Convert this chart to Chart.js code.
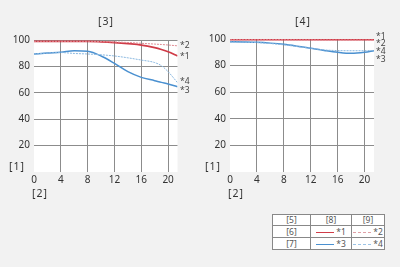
<!DOCTYPE html>
<html><head><meta charset="utf-8">
<script src="https://cdn.jsdelivr.net/npm/chart.js@4/dist/chart.umd.min.js"></script>
<style>
html,body{margin:0;padding:0;background:#f2f2f2;}
body{width:400px;height:267px;position:relative;overflow:hidden;font-family:"Noto Sans",sans-serif;color:#333;}
.t{position:absolute;font-size:10.5px;line-height:12px;white-space:nowrap;letter-spacing:1px;width:30px;text-align:center;}
.s{position:absolute;font-size:8.5px;line-height:10px;white-space:nowrap;color:#444;}
.c{position:absolute;top:0;}
table{position:absolute;left:272px;top:214px;border-collapse:collapse;background:#fff;font-size:8.5px;color:#555;}
td{border:1px solid #888;height:10px;padding:0;text-align:center;line-height:10px;}
.ln{display:inline-block;width:18px;height:0;vertical-align:middle;margin-right:2px;}
</style></head><body>
<div class="c" style="left:0"><canvas id="c1" width="200" height="200"></canvas></div>
<div class="c" style="left:196px"><canvas id="c2" width="200" height="200"></canvas></div>
<div class="t" style="left:91px;top:15px">[3]</div>
<div class="t" style="left:288px;top:15px">[4]</div>
<div class="t" style="left:2px;top:160px">[1]</div>
<div class="t" style="left:25px;top:187px">[2]</div>
<div class="t" style="left:198px;top:160px">[1]</div>
<div class="t" style="left:221px;top:187px">[2]</div>
<div class="s" style="left:180px;top:40px">*2</div>
<div class="s" style="left:180px;top:51px">*1</div>
<div class="s" style="left:180px;top:76px">*4</div>
<div class="s" style="left:180px;top:85px">*3</div>
<div class="s" style="left:376px;top:31px">*1</div>
<div class="s" style="left:376px;top:38px">*2</div>
<div class="s" style="left:376px;top:46px">*4</div>
<div class="s" style="left:376px;top:54px">*3</div>
<table>
<tr><td style="width:37px">[5]</td><td style="width:40px">[8]</td><td style="width:32px">[9]</td></tr>
<tr><td style="height:11px">[6]</td><td><span class="ln" style="border-top:1.5px solid #d03c48"></span>*1</td><td><span class="ln" style="border-top:1px dashed #e0a0a6"></span>*2</td></tr>
<tr><td style="height:11px">[7]</td><td><span class="ln" style="border-top:1.5px solid #4a90d0"></span>*3</td><td><span class="ln" style="border-top:1px dashed #9cc4e6"></span>*4</td></tr>
</table>
<script>
const xTicks = [0, 4, 8, 12, 16, 20];
const yTicks = [20, 40, 60, 80, 100];
const xMax = 21.4;

const posL = [0, 2, 4, 6, 8, 10, 12, 14, 16, 18, 19, 20, 21.4];
const left1 = [99, 99, 99, 99, 99, 98.6, 98, 97.2, 96.2, 94.2, 92.8, 91.1, 87.9];
const left2 = [99, 99, 99, 99, 99, 98.8, 98.5, 98.1, 97.5, 96.9, 96.6, 96.2, 95.6];
const left3 = [89.4, 90.1, 90.7, 91.8, 91.4, 87.9, 82.3, 76, 71.7, 69.2, 67.9, 66.7, 64.6];
const left4 = [89.4, 90.1, 90.5, 89.8, 89.4, 88.8, 87.9, 86.5, 84.8, 82.9, 80.5, 76, 67.7];

const posR = [0, 2, 4, 6, 8, 10, 12, 14, 16, 18, 20, 21.4];
const right1 = [99.6, 99.6, 99.6, 99.6, 99.6, 99.6, 99.6, 99.5, 99.5, 99.5, 99.5, 99.5];
const right2 = [99.4, 99.4, 99.4, 99.4, 99.4, 99.3, 99.3, 99.2, 99.2, 99.2, 99.2, 99.2];
const right3 = [98, 97.8, 97.5, 96.9, 96, 94.6, 93, 91.4, 90, 89.2, 90, 91.2];
const right4 = [97.8, 97.6, 97.3, 96.6, 95.6, 94.3, 93, 91.8, 91.3, 91.2, 91.2, 91.4];

const RED = '#d03c48', RED2 = '#df8a92', BLUE = '#4a90d0', BLUE2 = '#8ab8e0';

function pts(xs, ys){ return xs.map((x,i)=>({x:x, y:ys[i]})); }

const bg = {id:'bg', beforeDraw(ch){const a=ch.chartArea,c=ch.ctx;c.save();c.fillStyle='#fff';c.fillRect(a.left,a.top,a.right-a.left,a.bottom-a.top);c.restore();}};

function make(id, xs, s1, s2, s3, s4, geo){
  const ds = (d, color, w, dash) => ({data: pts(xs, d), borderColor: color, borderWidth: w, borderDash: dash, pointRadius: 0, tension: 0.4, cubicInterpolationMode: 'monotone', fill: false});
  return new Chart(document.getElementById(id), {
    type: 'line',
    data: {datasets: [ds(s4, BLUE2, 1, [2,1]), ds(s3, BLUE, 1.5, []), ds(s2, RED2, 1, [2,1]), ds(s1, RED, 1.8, [])]},
    plugins: [bg],
    options: {
      responsive: false, animation: false,
      layout: {padding: {left: 0, top: geo.top, right: 200 - geo.right, bottom: 0}},
      plugins: {legend: {display: false}, tooltip: {enabled: false}},
      scales: {
        x: {type: 'linear', min: 0, max: xMax,
            afterBuildTicks: s => { s.ticks = xTicks.map(v => ({value: v})); },
            afterFit: s => { s.height = 200 - geo.bottom; },
            grid: {color: c => c.tick && c.tick.value === 0 ? 'rgba(0,0,0,0)' : '#8c8c8c', lineWidth: 1, drawTicks: false},
            border: {display: false},
            ticks: {color: '#333', font: {family: 'Noto Sans', size: 10}, padding: 2, maxRotation: 0}},
        y: {min: 0, max: 100,
            afterBuildTicks: s => { s.ticks = yTicks.map(v => ({value: v})); },
            afterFit: s => { s.width = geo.left; },
            grid: {color: '#8c8c8c', lineWidth: 1, drawTicks: false},
            border: {display: false},
            ticks: {color: '#333', font: {family: 'Noto Sans', size: 10}, padding: 4}}
      }
    }
  });
}
make('c1', posL, left1, left2, left3, left4, {left: 34, right: 177.5, top: 40, bottom: 172});
make('c2', posR, right1, right2, right3, right4, {left: 34, right: 178, top: 39, bottom: 172});
</script>
</body></html>
